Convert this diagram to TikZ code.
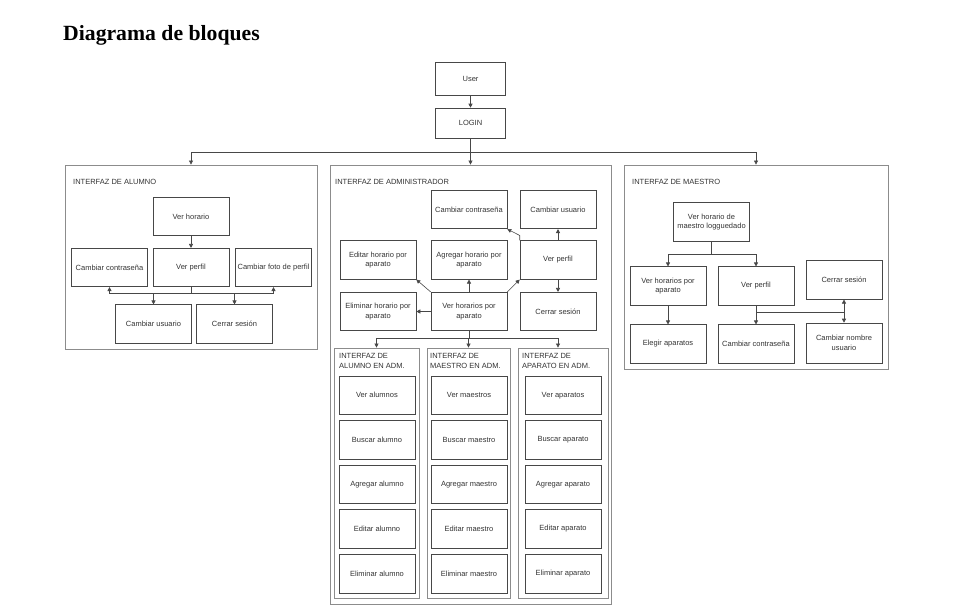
\documentclass[tikz,border=0pt]{standalone}
\usepackage{fontspec}
\setmainfont{Liberation Sans}
\newfontfamily\titlefont{Liberation Serif}
\usetikzlibrary{arrows.meta}

\begin{document}
\begin{tikzpicture}[x=1pt,y=-1pt,
		>={Triangle[length=4pt,width=4pt]},
		box/.style={draw=black!72, line width=0.6pt, minimum width=76pt, minimum height=38.5pt,
			inner sep=1pt, align=center, text=black!80, font=\fontsize{7.5}{9.5}\selectfont},
		panel/.style={draw=black!45, line width=0.8pt, inner sep=0pt},
		ptitle/.style={inner sep=0pt, align=left, text=black!80, font=\fontsize{7.5}{10}\selectfont},
		line/.style={draw=black!72, line width=0.6pt}]
		\useasboundingbox (0,0) rectangle (953,608);
		
		\node[anchor=base west, inner sep=0pt, font=\titlefont\bfseries\fontsize{21.7}{24}\selectfont] (title) at (63,40) {Diagrama de bloques};
		
		% inicio
		\node[box, minimum width=70pt, minimum height=33pt] (user) at (470.5,79) {User};
		\node[box, minimum width=70pt, minimum height=30pt] (login) at (470.5,123) {LOGIN};
		
		% paneles
		\node[panel, minimum width=252pt, minimum height=184pt] (alu) at (191,257) {};
		\node[panel, minimum width=281pt, minimum height=439pt] (adm) at (470.5,384.5) {};
		\node[panel, minimum width=264pt, minimum height=204pt] (mae) at (756,267) {};
		\node[ptitle, anchor=west] (aluT) at (73,182) {INTERFAZ DE ALUMNO};
		\node[ptitle, anchor=west] (admT) at (335,182) {INTERFAZ DE ADMINISTRADOR};
		\node[ptitle, anchor=west] (maeT) at (632,182) {INTERFAZ DE MAESTRO};
		
		\draw[line,->] (user) -- (login);
		\draw[line,->] (login) -- (adm);
		\draw[line,->] (login.south) -- ++(0,14) -| (alu.north);
		\draw[line,->] (login.south) -- ++(0,14) -| (mae.north);
		
		% alumno
		\node[box] (aVh) at (191,216.5) {Ver horario};
		\node[box] (aCc) at (109.5,267.5) {Cambiar contraseña};
		\node[box] (aVp) at (191,267.5) {Ver perfil};
		\node[box] (aCf) at (273.5,267.5) {Cambiar foto de perfil};
		\node[box] (aCu) at (153.5,324) {Cambiar usuario};
		\node[box] (aCs) at (234.5,324) {Cerrar sesión};
		
		\draw[line,->] (aVh) -- (aVp);
		\draw[line,->] (aVp.south) -- ++(0,6) -| (aCc.south);
		\draw[line,->] (aVp.south) -- ++(0,6) -| (aCf.south);
		\draw[line,->] (aVp.south) -- ++(0,6) -| (aCu.north);
		\draw[line,->] (aVp.south) -- ++(0,6) -| (aCs.north);
		
		% administrador
		\node[box] (dCc) at (469,209.5) {Cambiar contraseña};
		\node[box] (dCu) at (558,209.5) {Cambiar usuario};
		\node[box] (dEd) at (378,260) {Editar horario por\\aparato};
		\node[box] (dAg) at (469,260) {Agregar horario por\\aparato};
		\node[box] (dVp) at (558,260) {Ver perfil};
		\node[box] (dEl) at (378,311.5) {Eliminar horario por\\aparato};
		\node[box] (dVh) at (469,311.5) {Ver horarios por\\aparato};
		\node[box] (dCs) at (558,311.5) {Cerrar sesión};
		
		\draw[line,->] (dVh) -- (dAg);
		\draw[line,->] (dVh) -- (dEl);
		\draw[line,->] (dVh.north west) -- (dEd.south east);
		\draw[line,->] (dVh.north east) -- (dVp.south west);
		\draw[line,->] (dVp.north west) -- ++(0,-5) -- (dCc.south east);
		\draw[line,->] (dVp) -- (dCu);
		\draw[line,->] (dVp) -- (dCs);
		
		% sub paneles
		\node[panel, minimum width=85pt, minimum height=250pt] (sA) at (376.5,473) {};
		\node[panel, minimum width=83pt, minimum height=250pt] (sM) at (468.5,473) {};
		\node[panel, minimum width=90pt, minimum height=250pt] (sP) at (563,473) {};
		\node[ptitle, anchor=north west] (sAT) at (339,353) {INTERFAZ DE\\ALUMNO EN ADM.};
		\node[ptitle, anchor=north west] (sMT) at (430,353) {INTERFAZ DE\\MAESTRO EN ADM.};
		\node[ptitle, anchor=north west] (sPT) at (522,353) {INTERFAZ DE\\APARATO EN ADM.};
		
		\draw[line,->] (dVh.south) -- ++(0,7) -| (sA.north);
		\draw[line,->] (dVh.south) -- ++(0,7) -| (sM.north);
		\draw[line,->] (dVh.south) -- ++(0,7) -| (dCs.south |- sP.north);
		
		\foreach \c/\x/\sg/\pl in {A/377/alumno/alumnos, M/469/maestro/maestros, P/563/aparato/aparatos}{
			\node[box] (s\c1) at (\x,395.2) {Ver \pl};
			\node[box] (s\c2) at (\x,439.8) {Buscar \sg};
			\node[box] (s\c3) at (\x,484.4) {Agregar \sg};
			\node[box] (s\c4) at (\x,529.0) {Editar \sg};
			\node[box] (s\c5) at (\x,573.6) {Eliminar \sg};
		}
		
		% maestro
		\node[box] (mVh) at (711.5,222) {Ver horario de\\maestro logguedado};
		\node[box] (mVa) at (668,286) {Ver horarios por\\aparato};
		\node[box] (mVp) at (756,286) {Ver perfil};
		\node[box] (mCs) at (844,280) {Cerrar sesión};
		\node[box] (mEl) at (668,344) {Elegir aparatos};
		\node[box] (mCc) at (756,344) {Cambiar contraseña};
		\node[box, minimum height=40pt] (mCn) at (844,343) {Cambiar nombre\\usuario};
		
		\draw[line,->] (mVh.south) -- ++(0,13) -| (mVa.north);
		\draw[line,->] (mVh.south) -- ++(0,13) -| (mVp.north);
		\draw[line,->] (mVa) -- (mEl);
		\draw[line,->] (mVp) -- (mCc);
		\path (mVp.south) ++(0,7) coordinate (mBus);
		\draw[line] (mBus) -- (mBus -| mCs.south);
		\draw[line,<->] (mCs) -- (mCn);
		
\end{tikzpicture}
\end{document}
